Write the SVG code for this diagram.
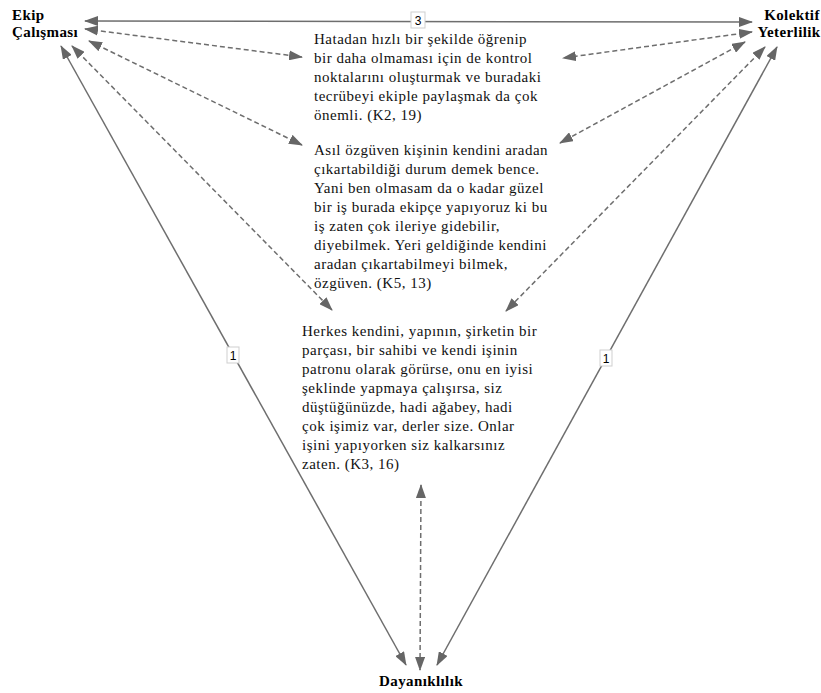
<svg xmlns="http://www.w3.org/2000/svg" width="821" height="693" viewBox="0 0 821 693">
<defs>
<marker id="ah" viewBox="0 0 14 10" refX="13" refY="5" markerWidth="14" markerHeight="10" markerUnits="userSpaceOnUse" orient="auto-start-reverse">
<path d="M0,0 L14,5 L0,10 z" fill="#666"/>
</marker>
</defs>
<rect width="821" height="693" fill="#fff"/>
<g id="connectors" fill="none" stroke="#6e6e6e" stroke-width="1.5" marker-start="url(#ah)" marker-end="url(#ah)">
<line x1="85" y1="21" x2="752" y2="22"/>
<line x1="61" y1="46" x2="406" y2="665"/>
<line x1="777" y1="47" x2="437" y2="665"/>
<g stroke-dasharray="5,3">
<line x1="85" y1="29" x2="302" y2="57"/>
<line x1="89" y1="41" x2="302" y2="145"/>
<line x1="72" y1="46" x2="332" y2="310"/>
<line x1="752" y1="32" x2="563" y2="58"/>
<line x1="745" y1="42" x2="560" y2="143"/>
<line x1="765" y1="47" x2="506" y2="311"/>
<line x1="421" y1="485" x2="420" y2="670"/>
</g>
</g>
<g id="labels" font-family="Liberation Sans, sans-serif" font-size="12" text-anchor="middle">
<g id="label-top"><rect x="411" y="12" width="14" height="16" fill="#fff" stroke="#cfcfcf"/><text x="418" y="24.5" fill="#000">3</text></g>
<g id="label-left"><rect x="227" y="347" width="12" height="16" fill="#fff" stroke="#cfcfcf"/><text x="233" y="359.5" fill="#000">1</text></g>
<g id="label-right"><rect x="600" y="350" width="12" height="16" fill="#fff" stroke="#cfcfcf"/><text x="606" y="362.5" fill="#000">1</text></g>
</g>
<g font-family="Liberation Serif, serif" font-weight="bold" font-size="15" letter-spacing="0.4" fill="#000">
<g id="ekip">
<text x="12" y="20">Ekip</text>
<text x="12" y="37">Çalışması</text>
</g>
<g id="kolektif" text-anchor="middle">
<text x="792" y="20">Kolektif</text>
<text x="789" y="37">Yeterlilik</text>
</g>
<g id="dayaniklilik" text-anchor="middle">
<text x="421" y="686">Dayanıklılık</text>
</g>
</g>
<g font-family="Liberation Serif, serif" font-size="15" letter-spacing="0.5" fill="#111">
<g id="quote1">
<text x="314" y="44">Hatadan hızlı bir şekilde öğrenip</text>
<text x="314" y="63">bir daha olmaması için de kontrol</text>
<text x="314" y="82">noktalarını oluşturmak ve buradaki</text>
<text x="314" y="101">tecrübeyi ekiple paylaşmak da çok</text>
<text x="314" y="120">önemli. (K2, 19)</text>
</g>
<g id="quote2">
<text x="314" y="155">Asıl özgüven kişinin kendini aradan</text>
<text x="314" y="174">çıkartabildiği durum demek bence.</text>
<text x="314" y="193">Yani ben olmasam da o kadar güzel</text>
<text x="314" y="212">bir iş burada ekipçe yapıyoruz ki bu</text>
<text x="314" y="231">iş zaten çok ileriye gidebilir,</text>
<text x="314" y="250">diyebilmek. Yeri geldiğinde kendini</text>
<text x="314" y="269">aradan çıkartabilmeyi bilmek,</text>
<text x="314" y="288">özgüven. (K5, 13)</text>
</g>
<g id="quote3">
<text x="302" y="336">Herkes kendini, yapının, şirketin bir</text>
<text x="302" y="355">parçası, bir sahibi ve kendi işinin</text>
<text x="302" y="374">patronu olarak görürse, onu en iyisi</text>
<text x="302" y="393">şeklinde yapmaya çalışırsa, siz</text>
<text x="302" y="412">düştüğünüzde, hadi ağabey, hadi</text>
<text x="302" y="431">çok işimiz var, derler size. Onlar</text>
<text x="302" y="450">işini yapıyorken siz kalkarsınız</text>
<text x="302" y="469">zaten. (K3, 16)</text>
</g>
</g>
</svg>
